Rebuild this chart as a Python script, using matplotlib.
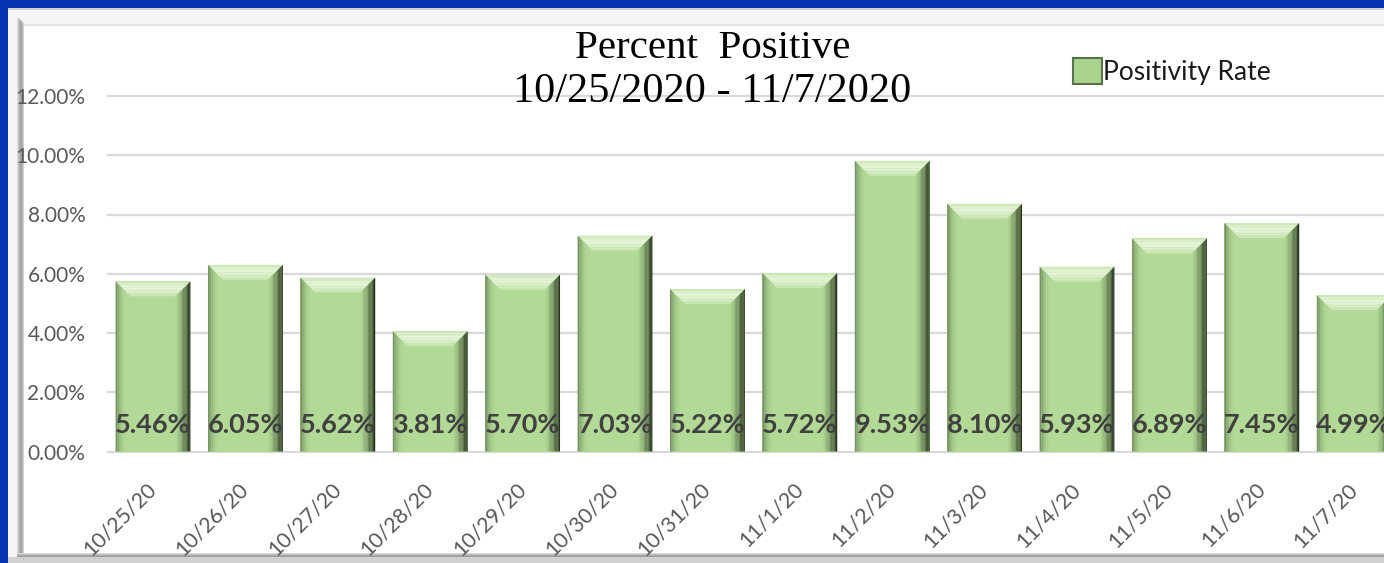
import matplotlib.pyplot as plt
import numpy as np
from matplotlib.patches import Rectangle, Patch
from matplotlib.colors import to_rgb

# Data
dates = ['10/25/20', '10/26/20', '10/27/20', '10/28/20', '10/29/20', '10/30/20',
         '10/31/20', '11/1/20', '11/2/20', '11/3/20', '11/4/20', '11/5/20',
         '11/6/20', '11/7/20']
bar_heights = [5.74, 6.30, 5.87, 4.06, 5.97, 7.29, 5.48, 6.02, 9.81, 8.36,
               6.24, 7.19, 7.71, 5.28]
label_values = [5.46, 6.05, 5.62, 3.81, 5.70, 7.03, 5.22, 5.72, 9.53, 8.10,
                5.93, 6.89, 7.45, 4.99]
y_ticks = [0, 2, 4, 6, 8, 10, 12]

plt.rcParams['font.family'] = ['Lato', 'DejaVu Sans']

W, H = 1384, 563
fig = plt.figure(figsize=(W / 100, H / 100), dpi=100, facecolor='#0632b0')


def frame_rect(x0, y0, w, h, color):
    # rectangle in pixel coords measured from the top-left corner
    fig.add_artist(Rectangle((x0 / W, 1 - (y0 + h) / H), w / W, h / H,
                             transform=fig.transFigure, facecolor=color,
                             edgecolor='none', zorder=-10))


# white chart panel with a bevelled frame
frame_rect(8, 8, W, H, '#f4f4f4')
frame_rect(8, 8, W, 2, '#d4d4d4')
frame_rect(24, 24, W, 530, 'white')
frame_rect(24, 24, W, 2, '#e6e6e6')
for i, c in enumerate(['#dedede', '#c8c8c8', '#b4b4b4', '#a4a4a4', '#a8a8a8', '#b8b8b8', '#d0d0d0']):
    frame_rect(17 + i, 17 + i, 1, 537 - i, c)
for i, c in enumerate(['#d8d8d8', '#c0c0c0', '#aaaaaa', '#9c9c9c']):
    frame_rect(17, 553 + i, W, 1, c)
frame_rect(8, 557, W, 6, '#d0d0d0')

# plot area (runs past the right edge like the source screenshot)
ypx = 29.625           # pixels per percent
xpx = 92.4             # pixels per category
y_lo, y_hi = -0.05, 12.2
ax = fig.add_axes([106.8 / W, (H - 451.5 - (-y_lo) * ypx) / H,
                   14 * xpx / W, (y_hi - y_lo) * ypx / H])
ax.set_facecolor('none')
ax.set_xlim(-0.5, 13.5)
ax.set_ylim(y_lo, y_hi)
for s in ax.spines.values():
    s.set_visible(False)
ax.set_yticks(y_ticks, [f'{v:.2f}%' for v in y_ticks])
ax.yaxis.grid(True, color='#d9d9d9', lw=1.6)
ax.set_axisbelow(True)
ax.tick_params(axis='y', length=0, pad=15.5, labelsize=15, labelcolor='#595959')

xs = np.arange(len(dates))
ax.set_xticks(xs, dates, rotation=45, ha='right', va='center', rotation_mode='anchor')
ax.tick_params(axis='x', length=0, pad=24, labelsize=15.5, labelcolor='#595959')

# bars with an Excel style bevel
bw = 0.81
bev_x, bev_y = 15 / xpx, 15 / ypx
body = np.array(to_rgb('#b2da96'))
dark = np.array(to_rgb('#1f2918'))
light = np.array(to_rgb('#f6fdee'))

ax.bar(xs, bar_heights, width=bw, color=body, lw=0, zorder=2)
for xi, h in zip(xs, bar_heights):
    l, r = xi - bw / 2, xi + bw / 2
    # top bevel, banded from the top edge down
    m = 10
    for k in range(m):
        e0, e1 = k / m, (k + 1) / m
        a = np.interp((e0 + e1) / 2, [0, 0.1, 0.4, 0.75, 1], [0.3, 0.55, 0.85, 0.55, 0.3])
        c = body + (light - body) * a
        ax.fill([l + e0 * bev_x, r - e0 * bev_x, r - e1 * bev_x, l + e1 * bev_x],
                [h - e0 * bev_y, h - e0 * bev_y, h - e1 * bev_y, h - e1 * bev_y],
                color=c, lw=0, zorder=3)
    # dark right side
    n = 12
    for k in range(n):
        d0, d1 = k / n, (k + 1) / n
        t = (1 - (d0 + d1) / 2) ** 1.3
        c = body + (dark - body) * t
        ax.fill([r - d1 * bev_x, r - d0 * bev_x, r - d0 * bev_x, r - d1 * bev_x],
                [0, 0, h - d0 * bev_y, h - d1 * bev_y],
                color=c, lw=0, zorder=3)
    # darker left side
    n = 6
    for k in range(n):
        d0, d1 = k / n * 0.7, (k + 1) / n * 0.7
        t = 0.4 * (1 - k / n) ** 2
        c = body + (dark - body) * t
        ax.fill([l + d0 * bev_x, l + d1 * bev_x, l + d1 * bev_x, l + d0 * bev_x],
                [0, 0, h - d1 * bev_y, h - d0 * bev_y],
                color=c, lw=0, zorder=3)

for xi, v in zip(xs, label_values):
    ax.text(xi, 0.9, f'{v:.2f}%', ha='center', va='center', fontsize=19.5,
            fontweight='bold', color='#404040', zorder=5)

# title
fig.text(713 / W, 1 - 58 / H, 'Percent  Positive', family='Liberation Serif',
         fontsize=29.5, ha='center', va='baseline', color='black')
fig.text(712 / W, 1 - 102 / H, '10/25/2020 - 11/7/2020', family='Liberation Serif',
         fontsize=30.5, ha='center', va='baseline', color='black')

fig.legend(handles=[Patch(facecolor='#a9d38d', edgecolor='#56724a', lw=1.5)],
           labels=['Positivity Rate'], loc='center left',
           bbox_to_anchor=(1073 / W, 1 - 71.5 / H), frameon=False, fontsize=19,
           handlelength=1.1, handleheight=1.1, handletextpad=0.05,
           borderpad=0, borderaxespad=0, labelcolor='#1a1a1a')

fig.savefig('out.png', dpi=100, facecolor=fig.get_facecolor())
